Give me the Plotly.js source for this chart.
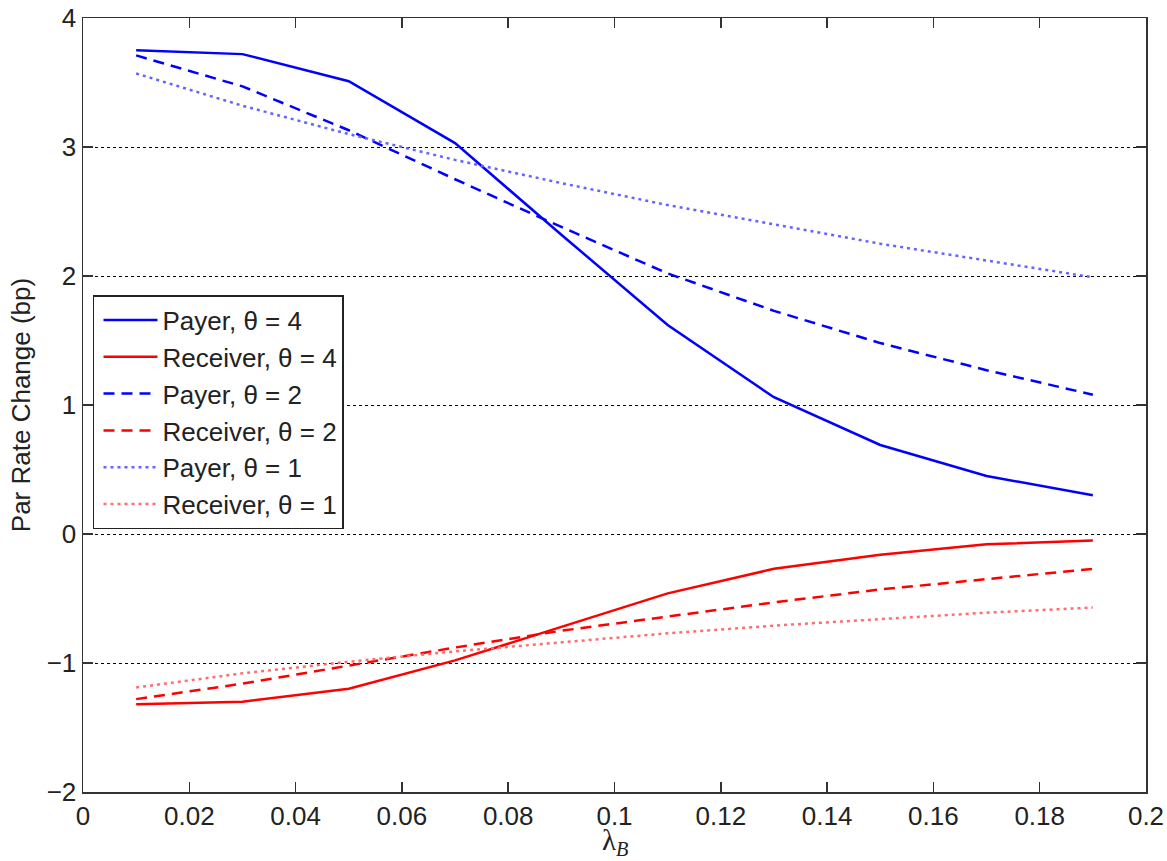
<!DOCTYPE html>
<html>
<head>
<meta charset="utf-8">
<script src="https://cdn.plot.ly/plotly-3.0.1.min.js"></script>
<style>html,body{margin:0;padding:0;background:#fff;}#chart{width:1167px;height:861px;}</style>
</head>
<body>
<div id="chart"></div>
<script>
const lambdaB = [0.01, 0.03, 0.05, 0.07, 0.09, 0.11, 0.13, 0.15, 0.17, 0.19];
const payer4 = [3.75, 3.72, 3.51, 3.03, 2.32, 1.62, 1.06, 0.69, 0.45, 0.30];
const receiver4 = [-1.32, -1.30, -1.20, -0.98, -0.72, -0.46, -0.27, -0.16, -0.08, -0.05];
const payer2 = [3.71, 3.47, 3.13, 2.75, 2.38, 2.02, 1.73, 1.48, 1.27, 1.08];
const receiver2 = [-1.28, -1.16, -1.02, -0.88, -0.75, -0.64, -0.53, -0.43, -0.35, -0.27];
const payer1 = [3.57, 3.32, 3.10, 2.90, 2.72, 2.55, 2.40, 2.25, 2.12, 1.99];
const receiver1 = [-1.19, -1.08, -0.99, -0.91, -0.84, -0.77, -0.71, -0.66, -0.61, -0.57];
const seriesNames = ['Payer, θ = 4', 'Receiver, θ = 4', 'Payer, θ = 2', 'Receiver, θ = 2', 'Payer, θ = 1', 'Receiver, θ = 1'];
const xTickVals = [0, 0.02, 0.04, 0.06, 0.08, 0.1, 0.12, 0.14, 0.16, 0.18, 0.2];
const xTickText = ['0', '0.02', '0.04', '0.06', '0.08', '0.1', '0.12', '0.14', '0.16', '0.18', '0.2'];
const yTickVals = [-2, -1, 0, 1, 2, 3, 4];
const yTickText = ['\u22122', '\u22121', '0', '1', '2', '3', '4'];
const xTitle = 'λ<sub><i>B</i></sub>';
const yTitle = 'Par Rate Change (bp)';

const BLUE = '#0000ff', RED = '#ff0000';
const LBLUE = 'rgb(100,100,255)', LRED = 'rgb(255,110,110)';
const ys = [payer4, receiver4, payer2, receiver2, payer1, receiver1];
const styles = [
  {color: BLUE, dash: 'solid'},
  {color: RED, dash: 'solid'},
  {color: BLUE, dash: '11px,7px'},
  {color: RED, dash: '11px,7px'},
  {color: LBLUE, dash: '3px,4px'},
  {color: LRED, dash: '3px,4px'}
];
const traces = ys.map((y, i) => ({
  x: lambdaB, y: y, type: 'scatter', mode: 'lines', name: seriesNames[i],
  line: {color: styles[i].color, dash: styles[i].dash, width: 2.5}
}));

const FONT = 'Liberation Sans, Arial, sans-serif';
const axisCommon = {
  showline: true, linecolor: '#333', linewidth: 1.5, mirror: 'ticks',
  ticks: 'inside', ticklen: 10, tickwidth: 1.5, tickcolor: '#333',
  zeroline: false, tickfont: {family: FONT, size: 26, color: '#222'}
};
const layout = {
  width: 1167, height: 861,
  margin: {l: 83, r: 21, t: 18, b: 69},
  paper_bgcolor: '#fff', plot_bgcolor: '#fff',
  showlegend: true,
  legend: {
    x: 0.0094, y: 0.642, xanchor: 'left', yanchor: 'top',
    bgcolor: '#fff', bordercolor: '#222', borderwidth: 1.5,
    font: {family: FONT, size: 26, color: '#222'},
    itemwidth: 58, tracegroupgap: 0
  },
  xaxis: Object.assign({}, axisCommon, {
    range: [0, 0.2], tickvals: xTickVals, ticktext: xTickText, showgrid: false
  }),
  yaxis: Object.assign({}, axisCommon, {
    range: [-2, 4], tickvals: yTickVals, ticktext: yTickText,
    showgrid: true, gridcolor: '#000', gridwidth: 1, griddash: 'dot',
    title: {text: yTitle, font: {family: FONT, size: 26, color: '#222'}, standoff: 8}
  }),
  annotations: [{
    text: xTitle, xref: 'paper', yref: 'paper', x: 0.5, y: 0,
    xanchor: 'center', yanchor: 'top', yshift: -30, showarrow: false,
    font: {family: 'Liberation Serif, Times New Roman, serif', size: 29, color: '#222'}
  }]
};
Plotly.newPlot('chart', traces, layout, {displayModeBar: false, staticPlot: true}).then(gd => {
  gd.querySelectorAll('.legend .legendlines path').forEach(p => p.setAttribute('d', 'M9,0h54'));
});
</script>
</body>
</html>
